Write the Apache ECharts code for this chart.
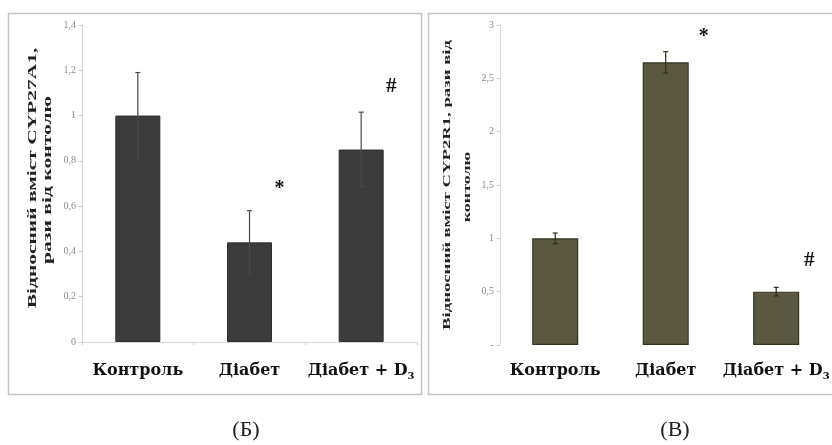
<!DOCTYPE html>
<html>
<head>
<meta charset="utf-8">
<script src="https://cdn.jsdelivr.net/npm/echarts@6/dist/echarts.min.js"></script>
<style>
  html, body { margin: 0; padding: 0; background: #fff; }
  #chart { width: 832px; height: 445px; }
</style>
</head>
<body>
<div id="chart"></div>
<script>
// Groups on the category axis (the last one carries a subscript "3")
const categories = ['Контроль', 'Діабет', 'Діабет + D3'];

// Panel Б: CYP27A1 relative content, fold of control
const cyp27a1Values = [1.00, 0.44, 0.85];
const cyp27a1Errors = [0.19, 0.14, 0.165];
const cyp27a1Marks = ['', '*', '#'];
const cyp27a1Ticks = [0, 0.2, 0.4, 0.6, 0.8, 1.0, 1.2, 1.4];

// Panel В: CYP2R1 relative content, fold of control
const cyp2r1Values = [1.00, 2.65, 0.50];
const cyp2r1Errors = [0.05, 0.10, 0.04];
const cyp2r1Marks = ['', '*', '#'];
const cyp2r1Ticks = [0, 0.5, 1.0, 1.5, 2.0, 2.5, 3.0];

const SERIF = '"Liberation Serif", "DejaVu Serif", serif';
const WIDE_SERIF = '"DejaVu Serif", "Liberation Serif", serif';

const chart = echarts.init(document.getElementById('chart'), null, { renderer: 'canvas' });

function commaLabel(v) {
  return String(Math.round(v * 10) / 10).replace('.', ',');
}

function categoryLabel(v) {
  const m = v.match(/^(.*)D3$/);
  return m ? '{base|' + m[1] + 'D}{sub|3}' : '{base|' + v + '}';
}

function valueAxis(gridIndex, ticks, showZero) {
  return {
    type: 'value',
    gridIndex: gridIndex,
    min: ticks[0],
    max: ticks[ticks.length - 1],
    interval: ticks[1] - ticks[0],
    axisLine: { show: true, lineStyle: { color: '#d6d6d6', width: 1 } },
    axisTick: { show: true, length: 3, lineStyle: { color: '#c8c8c8' } },
    splitLine: { show: false },
    axisLabel: {
      color: '#8a8a8a',
      fontFamily: SERIF,
      fontSize: 10,
      margin: 6,
      formatter: function (v) { return (v === 0 && !showZero) ? '-' : commaLabel(v); }
    }
  };
}

function categoryAxis(gridIndex, showLine, margin) {
  return {
    type: 'category',
    gridIndex: gridIndex,
    data: categories,
    axisLine: { show: showLine, lineStyle: { color: '#d6d6d6', width: 1 } },
    axisTick: { show: showLine, length: 3, lineStyle: { color: '#d0d0d0' } },
    axisLabel: {
      interval: 0,
      margin: margin,
      formatter: categoryLabel,
      rich: {
        base: { fontFamily: WIDE_SERIF, fontWeight: 'bold', fontSize: 16, color: '#111', lineHeight: 20 },
        sub: { fontFamily: WIDE_SERIF, fontWeight: 'bold', fontSize: 10, color: '#111', lineHeight: 20,
               verticalAlign: 'bottom', padding: [5, 0, 0, 0] }
      }
    }
  };
}

function errorSeries(axisIndex, values, errors, color) {
  return {
    type: 'custom',
    xAxisIndex: axisIndex,
    yAxisIndex: axisIndex,
    z: 5,
    data: values.map(function (v, i) { return [i, v, errors[i]]; }),
    renderItem: function (params, api) {
      const i = api.value(0), v = api.value(1), e = api.value(2);
      const hi = api.coord([i, v + e]);
      const lo = api.coord([i, v - e]);
      const cap = 2.5;
      const style = { stroke: color, lineWidth: 1.2 };
      return {
        type: 'group',
        children: [
          { type: 'line', shape: { x1: hi[0], y1: hi[1], x2: lo[0], y2: lo[1] }, style: style },
          { type: 'line', shape: { x1: hi[0] - cap, y1: hi[1], x2: hi[0] + cap, y2: hi[1] }, style: style },
          { type: 'line', shape: { x1: lo[0] - cap, y1: lo[1], x2: lo[0] + cap, y2: lo[1] }, style: style }
        ]
      };
    }
  };
}

// Significance marks, placed relative to the top of each error bar
function markSeries(axisIndex, values, errors, marks, offsets) {
  return {
    type: 'custom',
    xAxisIndex: axisIndex,
    yAxisIndex: axisIndex,
    z: 6,
    data: values.map(function (v, i) { return [i, v + errors[i], marks[i]]; }),
    renderItem: function (params, api) {
      const i = api.value(0);
      const text = marks[i];
      if (!text) return null;
      const p = api.coord([i, api.value(1)]);
      const off = offsets[text];
      return {
        type: 'text',
        style: {
          x: p[0] + off[0],
          y: p[1] + off[1],
          text: text,
          align: 'center',
          verticalAlign: 'middle',
          fontFamily: SERIF,
          fontWeight: 'bold',
          fontSize: text === '*' ? 20 : 21,
          fill: '#111'
        }
      };
    }
  };
}

// Rotated, lengthwise-stretched axis title line
function titleLine(text, x, y, size, stretch) {
  return {
    type: 'text', x: x, y: y, rotation: Math.PI / 2, scaleX: stretch, scaleY: 1,
    style: { text: text, align: 'center', verticalAlign: 'middle',
      fontFamily: SERIF, fontWeight: 'bold', fontSize: size, fill: '#222' }
  };
}

const option = {
  backgroundColor: '#ffffff',
  animation: false,
  grid: [
    { left: 82, top: 25, width: 335, height: 317 },
    { left: 500, top: 25, width: 335, height: 320 }
  ],
  xAxis: [categoryAxis(0, true, 19), categoryAxis(1, false, 16)],
  yAxis: [valueAxis(0, cyp27a1Ticks, true), valueAxis(1, cyp2r1Ticks, false)],
  series: [
    {
      type: 'bar',
      xAxisIndex: 0,
      yAxisIndex: 0,
      barWidth: 45,
      data: cyp27a1Values,
      itemStyle: { color: '#3c3c3c', borderColor: '#2e2e2e', borderWidth: 1 }
    },
    {
      type: 'bar',
      xAxisIndex: 1,
      yAxisIndex: 1,
      barWidth: 46,
      data: cyp2r1Values,
      itemStyle: { color: '#5b5841', borderColor: '#34321f', borderWidth: 1.2 }
    },
    errorSeries(0, cyp27a1Values, cyp27a1Errors, '#4a4a4a'),
    errorSeries(1, cyp2r1Values, cyp2r1Errors, '#2c2a1c'),
    markSeries(0, cyp27a1Values, cyp27a1Errors, cyp27a1Marks, { '*': [30, -22], '#': [30, -26] }),
    markSeries(1, cyp2r1Values, cyp2r1Errors, cyp2r1Marks, { '*': [38, -15], '#': [33, -27] })
  ],
  graphic: [
    // panel frames
    { type: 'rect', shape: { x: 8.5, y: 13.5, width: 413, height: 381 },
      style: { fill: 'none', stroke: '#c4c4c4', lineWidth: 1.5 }, z: 0 },
    { type: 'rect', shape: { x: 428.5, y: 13.5, width: 410, height: 381 },
      style: { fill: 'none', stroke: '#c4c4c4', lineWidth: 1.5 }, z: 0 },
    // y-axis titles
    titleLine('Відносний вміст CYP27A1,', 33, 178, 13, 1.65),
    titleLine('рази від контолю', 48, 180, 12, 1.8),
    titleLine('Відносний вміст CYP2R1, рази від', 447, 185, 11, 1.7),
    titleLine('контолю', 467, 187, 10, 1.8),
    // panel captions
    { type: 'text', x: 246, y: 430,
      style: { text: '(Б)', align: 'center', verticalAlign: 'middle',
        fontFamily: SERIF, fontSize: 22, fill: '#222' } },
    { type: 'text', x: 675, y: 430,
      style: { text: '(В)', align: 'center', verticalAlign: 'middle',
        fontFamily: SERIF, fontSize: 22, fill: '#222' } }
  ]
};

chart.setOption(option);
</script>
</body>
</html>
